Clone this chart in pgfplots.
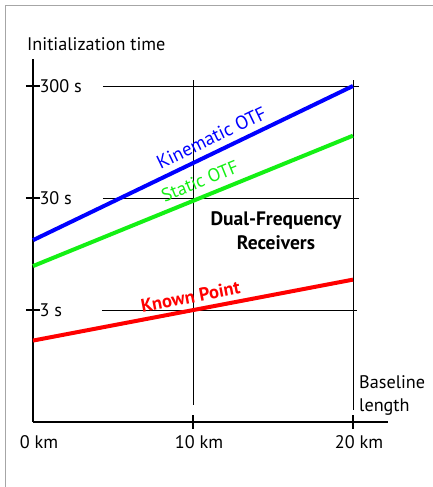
\documentclass[border=0pt]{standalone}
\usepackage{pgfplots}
\pgfplotsset{compat=1.18}
\usepackage{fontspec}
\setmainfont{PT Sans}
\definecolor{kblue}{RGB}{0,0,255}
\definecolor{sgreen}{RGB}{20,240,20}
\definecolor{kred}{RGB}{255,0,0}
\begin{document}
\begin{tikzpicture}[font=\fontsize{18.2}{21}\selectfont]
\useasboundingbox (0,0) rectangle (433pt,487pt);
\fill[white] (0,0) rectangle (433pt,487pt);
\draw[black!35, line width=1pt] (433pt,481pt) -- (5pt,481pt) -- (5pt,0pt);
\begin{axis}[
 at={(33pt,65pt)}, anchor=south west,
 scale only axis, width=355pt, height=363pt,
 xmin=0, xmax=22.19, ymin=0.3, ymax=522.6, ymode=log,
 axis x line=bottom, axis y line=left,
 axis line style={line width=2pt, -},
 xtick={10,20}, xticklabels={10 km, 20 km},
 extra x ticks={0}, extra x tick labels={0 km},
 extra x tick style={tick style={draw=none}},
 ytick={3,30,300}, yticklabels={3 s,30 s,300 s},
 yminorticks=false, xminorticks=false,
 tick align=center, major tick length=14pt,
 tick style={line width=1.8pt, black},
 yticklabel style={anchor=west, xshift=10pt},
 xticklabel style={xshift=6pt, yshift=-3pt},
 clip=false,
]
% grid lines
\draw[line width=0.9pt] (axis cs:4.375,300) -- (axis cs:20.375,300);
\draw[line width=0.9pt] (axis cs:4.375,30) -- (axis cs:20.375,30);
\draw[line width=0.9pt] (axis cs:4.3,3) -- (axis cs:20.25,3);
\draw[line width=0.9pt] (axis cs:10,339) -- (axis cs:10,0.425);
\draw[line width=0.9pt] (axis cs:20,339) -- (axis cs:20,0.384);
% data
\addplot[kred, line width=4pt] coordinates {(0,1.6) (20,5.6)}
  node[pos=0.50, sloped, above, inner sep=5pt, font=\fontsize{18.5}{21}\selectfont\bfseries] {Known Point};
\addplot[sgreen, line width=4pt] coordinates {(0,7.4) (20,108)}
  node[pos=0.54, sloped, above, inner sep=7pt, font=\fontsize{18.5}{21}\selectfont] {Static OTF};
\addplot[kblue, line width=4pt] coordinates {(0,12.6) (20,300)}
  node[pos=0.578, sloped, above, inner sep=6pt, font=\fontsize{19}{21}\selectfont] {Kinematic OTF};
\end{axis}
\node[anchor=base west, inner sep=0pt] at (27pt,436pt) {Initialization time};
\node[anchor=base west, inner sep=0pt] at (359pt,98pt) {Baseline};
\node[anchor=base west, inner sep=0pt] at (359pt,75.3pt) {length};
\node[anchor=base, inner sep=0pt, font=\fontsize{19.5}{21}\selectfont\bfseries] at (276pt,261pt) {Dual-Frequency};
\node[anchor=base, inner sep=0pt, font=\fontsize{19.5}{21}\selectfont\bfseries] at (276pt,237.7pt) {Receivers};
\end{tikzpicture}
\end{document}
